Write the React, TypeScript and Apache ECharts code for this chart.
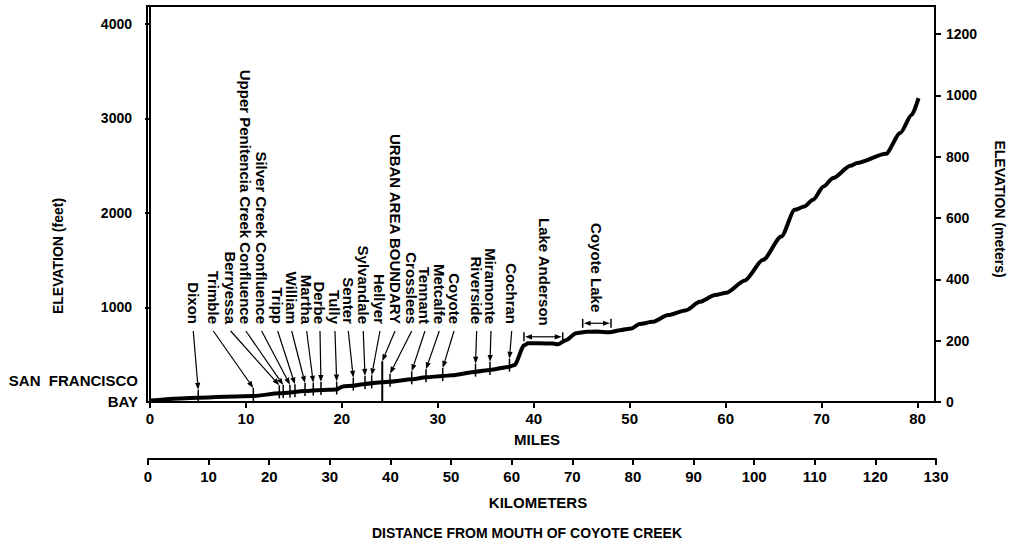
import React, { useEffect, useRef } from "react";
import * as echarts from "echarts";

// ---- Data ----
// Elevation profile of Coyote Creek: distance (miles) and elevation (feet)
const profileMiles = [0, 5.0, 10.8, 13.5, 16.2, 17.8, 19.4, 20.1, 21.2, 22.4, 24.2, 25.0, 27.3, 28.8, 30.5, 31.5, 34.0, 35.4, 37.5, 38.0, 39.0, 39.4, 40.6, 42.0, 42.5, 43.4, 44.4, 45.5, 46.5, 47.9, 49.0, 50.2, 51.0, 52.4, 54.0, 55.9, 57.3, 58.9, 60.1, 62.0, 63.9, 65.8, 67.2, 68.2, 69.1, 70.2, 71.2, 73.0, 73.7, 76.7, 78.2, 79.4, 80.1];
const profileFeet = [16, 46, 64, 92, 116, 127, 132, 165, 173, 191, 209, 215, 240, 262, 275, 283, 321, 339, 374, 392, 600, 622, 622, 618, 610, 657, 728, 744, 745, 738, 760, 778, 825, 848, 920, 972, 1060, 1132, 1157, 1285, 1504, 1750, 2033, 2068, 2139, 2280, 2369, 2499, 2528, 2626, 2846, 3039, 3216];

// Stations (bridges / road crossings) along the creek
const stationNames = ["Dixon", "Trimble", "Berryessa", "Upper Penitencia Creek Confluence", "Silver Creek Confluence", "Tripp", "William", "Martha", "Derbe", "Tully", "Senter", "Sylvandale", "Hellyer", "URBAN AREA BOUNDARY", "Crosslees", "Tennant", "Metcalfe", "Coyote", "Riverside", "Miramonte", "Cochran"];
const stationMiles = [5.03, 10.77, 13.48, 13.89, 14.59, 15.11, 16.16, 17.02, 17.82, 19.46, 21.19, 22.41, 23.11, 24.21, 25.02, 27.28, 28.77, 30.51, 33.93, 35.44, 37.47];
const stationFeet = [46, 64, 92, 94, 98, 102, 116, 120, 127, 132, 173, 191, 198, 209, 215, 240, 262, 275, 321, 339, 374];
const stationKinds = ["tick", "tick", "tick", "tick", "tick", "tick", "tick", "tick", "tick", "tick", "tick", "tick", "tick", "boundary", "tick", "tick", "tick", "tick", "tick", "tick", "tick"];
// where each label column stands (miles)
const labelMiles = [4.51, 6.6, 8.41, 10.0, 11.64, 13.31, 14.77, 16.33, 17.72, 19.28, 20.67, 22.23, 23.97, 25.54, 27.28, 28.66, 30.15, 31.69, 34.05, 35.54, 37.7];

// Reservoirs
const lakeNames = ["Lake Anderson", "Coyote Lake"];
const lakeStartMiles = [38.98, 45.1];
const lakeEndMiles = [43.02, 48.05];
const lakeFeet = [690, 833];
const lakeLabelMiles = [41.17, 46.56];

// Axis ticks
const mileTicks = [0, 10, 20, 30, 40, 50, 60, 70, 80];
const kmTicks = [0, 10, 20, 30, 40, 50, 60, 70, 80, 90, 100, 110, 120, 130];
const feetTicks = [1000, 2000, 3000, 4000];
const meterTicks = [0, 200, 400, 600, 800, 1000, 1200];

const FONT = '"Liberation Sans", Arial, Helvetica, sans-serif';

export default function App() {
  const ref = useRef<HTMLDivElement>(null);

  useEffect(() => {
    if (!ref.current) return;
    const chart = echarts.init(ref.current, null, { renderer: "svg" });

    const axisLine = { show: true, lineStyle: { color: "#000", width: 2 } };
    const tickStyle = { color: "#000", width: 2 };
    const fmt = (v: number) => String(v);

    const option: any = {
      animation: false,
      backgroundColor: "#fff",
      grid: [
        { left: 147, right: 76, top: 6, bottom: 142, show: true, borderColor: "#000", borderWidth: 2, backgroundColor: "transparent" },
        { left: 148, right: 75, top: 458, height: 1, show: false },
      ],
      xAxis: [
        {
          type: "value",
          gridIndex: 0,
          min: -0.31,
          max: 81.82,
          position: "bottom",
          axisLine,
          axisTick: { show: true, length: 6, lineStyle: tickStyle, customValues: mileTicks },
          axisLabel: { customValues: mileTicks, formatter: fmt, color: "#000", fontWeight: "bold", fontSize: 15, fontFamily: FONT, margin: 9 },
          splitLine: { show: false },
        },
        {
          type: "value",
          gridIndex: 1,
          min: 0,
          max: 130,
          position: "bottom",
          axisLine,
          axisTick: { show: true, length: 6, lineStyle: tickStyle, customValues: kmTicks },
          axisLabel: { customValues: kmTicks, formatter: fmt, color: "#000", fontWeight: "bold", fontSize: 15, fontFamily: FONT, margin: 10 },
          splitLine: { show: false },
        },
      ],
      yAxis: [
        {
          type: "value",
          gridIndex: 0,
          min: 0,
          max: 4190,
          position: "left",
          axisLine,
          axisTick: { show: true, length: 5, lineStyle: tickStyle, customValues: feetTicks },
          axisLabel: { customValues: feetTicks, formatter: fmt, color: "#000", fontWeight: "bold", fontSize: 14, fontFamily: FONT, margin: 15 },
          splitLine: { show: false },
        },
        {
          type: "value",
          gridIndex: 0,
          min: 0,
          max: 1292,
          position: "right",
          axisLine,
          axisTick: { show: true, length: 6, lineStyle: tickStyle, customValues: meterTicks },
          axisLabel: { customValues: meterTicks, formatter: fmt, color: "#000", fontWeight: "bold", fontSize: 14, fontFamily: FONT, margin: 11 },
          splitLine: { show: false },
        },
        { type: "value", gridIndex: 1, min: 0, max: 1, show: false },
      ],
      series: [
        {
          type: "line",
          xAxisIndex: 0,
          yAxisIndex: 0,
          data: profileMiles.map((m, i) => [m, profileFeet[i]]),
          showSymbol: false,
          smooth: 0.25,
          smoothMonotone: "x",
          lineStyle: { color: "#000", width: 4 },
          z: 5,
        },
        {
          type: "custom",
          xAxisIndex: 0,
          yAxisIndex: 0,
          data: stationMiles.map((m, i) => [m, stationFeet[i], labelMiles[i]]),
          z: 6,
          renderItem: (params: any, api: any) => {
            const i = params.dataIndex;
            const m = api.value(0);
            const f = api.value(1);
            const lm = api.value(2);
            const p = api.coord([m, f]);
            const lx = api.coord([lm, f])[0];
            const boundary = stationKinds[i] === "boundary";
            const tipY = boundary ? p[1] - 21 : p[1] - 8;
            const sx = lx;
            const sy = 331;
            const dx = p[0] - sx;
            const dy = tipY - sy;
            const len = Math.hypot(dx, dy) || 1;
            const ux = dx / len;
            const uy = dy / len;
            const hl = 7;
            const hw = 2.6;
            const bx = p[0] - ux * hl;
            const by = tipY - uy * hl;
            const children: any[] = [
              { type: "line", shape: { x1: sx, y1: sy, x2: bx, y2: by }, style: { stroke: "#000", lineWidth: 1.2 } },
              {
                type: "polygon",
                shape: { points: [[p[0], tipY], [bx - uy * hw, by + ux * hw], [bx + uy * hw, by - ux * hw]] },
                style: { fill: "#000" },
              },
              boundary
                ? { type: "line", shape: { x1: p[0], y1: tipY, x2: p[0], y2: api.coord([m, 0])[1] }, style: { stroke: "#000", lineWidth: 2 } }
                : { type: "line", shape: { x1: p[0], y1: p[1] - 8, x2: p[0], y2: p[1] + 5 }, style: { stroke: "#000", lineWidth: 1.5 } },
              {
                type: "text",
                x: lx,
                y: 324,
                rotation: -Math.PI / 2,
                style: { text: stationNames[i], fill: "#000", font: `bold 15px ${FONT}`, align: "right", verticalAlign: "middle" },
              },
            ];
            return { type: "group", children };
          },
        },
        {
          type: "custom",
          xAxisIndex: 0,
          yAxisIndex: 0,
          data: lakeStartMiles.map((s, i) => [s, lakeFeet[i], lakeEndMiles[i], lakeLabelMiles[i]]),
          z: 6,
          renderItem: (params: any, api: any) => {
            const i = params.dataIndex;
            const a = api.coord([api.value(0), api.value(1)]);
            const b = api.coord([api.value(2), api.value(1)]);
            const lx = api.coord([api.value(3), api.value(1)])[0];
            const y = a[1];
            const hl = 7;
            const hw = 2.6;
            return {
              type: "group",
              children: [
                { type: "line", shape: { x1: a[0] + hl, y1: y, x2: b[0] - hl, y2: y }, style: { stroke: "#000", lineWidth: 1.2 } },
                { type: "line", shape: { x1: a[0], y1: y - 4.5, x2: a[0], y2: y + 4.5 }, style: { stroke: "#000", lineWidth: 1.5 } },
                { type: "line", shape: { x1: b[0], y1: y - 4.5, x2: b[0], y2: y + 4.5 }, style: { stroke: "#000", lineWidth: 1.5 } },
                { type: "polygon", shape: { points: [[a[0] + 1, y], [a[0] + 1 + hl, y - hw], [a[0] + 1 + hl, y + hw]] }, style: { fill: "#000" } },
                { type: "polygon", shape: { points: [[b[0] - 1, y], [b[0] - 1 - hl, y - hw], [b[0] - 1 - hl, y + hw]] }, style: { fill: "#000" } },
                {
                  type: "text",
                  x: lx,
                  y: y - 11,
                  rotation: -Math.PI / 2,
                  style: { text: lakeNames[i], fill: "#000", font: `bold 15px ${FONT}`, align: "right", verticalAlign: "middle" },
                },
              ],
            };
          },
        },
        { type: "line", xAxisIndex: 1, yAxisIndex: 2, data: [], showSymbol: false },
      ],
      graphic: [
        { type: "text", x: 58, y: 256, rotation: Math.PI / 2, style: { text: "ELEVATION (feet)", fill: "#000", font: `bold 14px ${FONT}`, align: "center", verticalAlign: "middle" } },
        { type: "text", x: 1000, y: 209, rotation: -Math.PI / 2, style: { text: "ELEVATION (meters)", fill: "#000", font: `bold 14px ${FONT}`, align: "center", verticalAlign: "middle" } },
        { type: "text", x: 138, y: 380, style: { text: "SAN  FRANCISCO", fill: "#000", font: `bold 15px ${FONT}`, align: "right", verticalAlign: "middle" } },
        { type: "text", x: 138, y: 401, style: { text: "BAY", fill: "#000", font: `bold 15px ${FONT}`, align: "right", verticalAlign: "middle" } },
        { type: "text", x: 537, y: 439, style: { text: "MILES", fill: "#000", font: `bold 15px ${FONT}`, align: "center", verticalAlign: "middle" } },
        { type: "text", x: 538, y: 502, style: { text: "KILOMETERS", fill: "#000", font: `bold 15px ${FONT}`, align: "center", verticalAlign: "middle" } },
        { type: "text", x: 527, y: 533, style: { text: "DISTANCE FROM MOUTH OF COYOTE CREEK", fill: "#000", font: `bold 14px ${FONT}`, align: "center", verticalAlign: "middle" } },
      ],
    };

    chart.setOption(option);
    return () => chart.dispose();
  }, []);

  return <div ref={ref} style={{ position: "absolute", left: 0, top: 0, width: 1011, height: 544 }} />;
}
